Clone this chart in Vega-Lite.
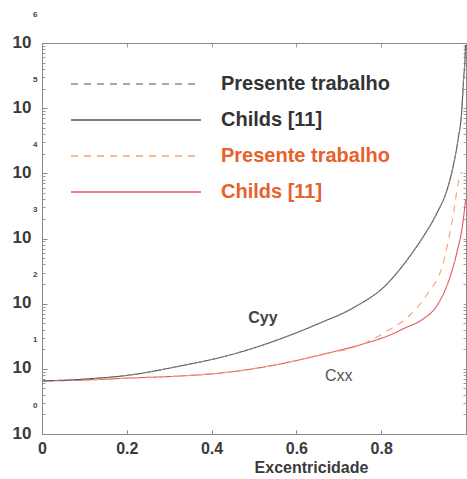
{
  "$schema": "https://vega.github.io/schema/vega-lite/v6.json",
  "width": 424,
  "height": 391,
  "autosize": {"type": "none"},
  "padding": {"left": 42, "top": 43, "right": 1, "bottom": 45},
  "background": "white",
  "config": {
    "font": "Liberation Sans",
    "axis": {"labelFont": "Liberation Sans", "titleFont": "Liberation Sans"},
    "legend": {"labelFont": "Liberation Sans"},
    "text": {"font": "Liberation Sans"},
    "view": {"stroke": "#8a8a8a", "strokeWidth": 1}
  },
  "datasets": {
    "curves": [
      {"s": "xx_c", "e": 0, "C": 6.51},
      {"s": "xx_c", "e": 0.1038, "C": 6.74},
      {"s": "xx_c", "e": 0.2075, "C": 7.23},
      {"s": "xx_c", "e": 0.3255, "C": 7.76},
      {"s": "xx_c", "e": 0.4434, "C": 8.94},
      {"s": "xx_c", "e": 0.5613, "C": 11.86},
      {"s": "xx_c", "e": 0.6557, "C": 16.3},
      {"s": "xx_c", "e": 0.7571, "C": 24.04},
      {"s": "xx_c", "e": 0.8208, "C": 33.04},
      {"s": "xx_c", "e": 0.8561, "C": 42.31},
      {"s": "xx_c", "e": 0.8986, "C": 58.17},
      {"s": "xx_c", "e": 0.9292, "C": 88.85},
      {"s": "xx_c", "e": 0.9623, "C": 256.5},
      {"s": "xx_c", "e": 0.9788, "C": 620.4},
      {"s": "xx_c", "e": 0.9929, "C": 1791},
      {"s": "xx_c", "e": 0.9988, "C": 3896},
      {"s": "xx_p", "e": 0, "C": 6.51},
      {"s": "xx_p", "e": 0.1038, "C": 6.74},
      {"s": "xx_p", "e": 0.2075, "C": 7.23},
      {"s": "xx_p", "e": 0.3255, "C": 7.76},
      {"s": "xx_p", "e": 0.4434, "C": 8.94},
      {"s": "xx_p", "e": 0.5613, "C": 11.86},
      {"s": "xx_p", "e": 0.6557, "C": 16.3},
      {"s": "xx_p", "e": 0.7571, "C": 24.04},
      {"s": "xx_p", "e": 0.8137, "C": 38.06},
      {"s": "xx_p", "e": 0.8679, "C": 66.99},
      {"s": "xx_p", "e": 0.9104, "C": 145.7},
      {"s": "xx_p", "e": 0.9434, "C": 365.1},
      {"s": "xx_p", "e": 0.967, "C": 1791},
      {"s": "xx_p", "e": 0.9858, "C": 9097},
      {"s": "xx_p", "e": 0.9906, "C": 10480},
      {"s": "yy_c", "e": 0, "C": 6.51},
      {"s": "yy_c", "e": 0.1038, "C": 6.98},
      {"s": "yy_c", "e": 0.2075, "C": 8.04},
      {"s": "yy_c", "e": 0.3255, "C": 11.05},
      {"s": "yy_c", "e": 0.4434, "C": 16.3},
      {"s": "yy_c", "e": 0.5613, "C": 28.69},
      {"s": "yy_c", "e": 0.6557, "C": 50.49},
      {"s": "yy_c", "e": 0.7335, "C": 85.79},
      {"s": "yy_c", "e": 0.8137, "C": 200.3},
      {"s": "yy_c", "e": 0.8679, "C": 538.7},
      {"s": "yy_c", "e": 0.8986, "C": 1054},
      {"s": "yy_c", "e": 0.9316, "C": 2461},
      {"s": "yy_c", "e": 0.9552, "C": 5548},
      {"s": "yy_c", "e": 0.9693, "C": 12503},
      {"s": "yy_c", "e": 0.9811, "C": 32460},
      {"s": "yy_c", "e": 0.9906, "C": 104200},
      {"s": "yy_c", "e": 0.9941, "C": 270400},
      {"s": "yy_c", "e": 0.9976, "C": 548200},
      {"s": "yy_c", "e": 0.999, "C": 931100},
      {"s": "yy_p", "e": 0, "C": 6.51},
      {"s": "yy_p", "e": 0.1038, "C": 6.98},
      {"s": "yy_p", "e": 0.2075, "C": 8.04},
      {"s": "yy_p", "e": 0.3255, "C": 11.05},
      {"s": "yy_p", "e": 0.4434, "C": 16.3},
      {"s": "yy_p", "e": 0.5613, "C": 28.69},
      {"s": "yy_p", "e": 0.6557, "C": 50.49},
      {"s": "yy_p", "e": 0.7335, "C": 85.79},
      {"s": "yy_p", "e": 0.8137, "C": 200.3},
      {"s": "yy_p", "e": 0.8679, "C": 538.7},
      {"s": "yy_p", "e": 0.8986, "C": 1054},
      {"s": "yy_p", "e": 0.9316, "C": 2461},
      {"s": "yy_p", "e": 0.9552, "C": 5548},
      {"s": "yy_p", "e": 0.9693, "C": 12503},
      {"s": "yy_p", "e": 0.9811, "C": 32460},
      {"s": "yy_p", "e": 0.9906, "C": 104200},
      {"s": "yy_p", "e": 0.9941, "C": 270400},
      {"s": "yy_p", "e": 0.9976, "C": 548200},
      {"s": "yy_p", "e": 0.999, "C": 931100}
    ],
    "notes": [
      {"e": 0.521, "C": 60, "txt": "Cyy", "w": "bold"},
      {"e": 0.7, "C": 7.76, "txt": "Cxx", "w": "normal"}
    ]
  },
  "resolve": {
    "scale": {"x": "shared", "y": "shared"},
    "axis": {"x": "independent", "y": "independent"}
  },
  "layer": [
    {
      "data": {"name": "curves"},
      "mark": {"type": "line", "strokeWidth": 1.1, "interpolate": "monotone"},
      "encoding": {
        "x": {
          "field": "e", "type": "quantitative",
          "scale": {"domain": [0, 1], "nice": false, "zero": false},
          "axis": {
            "orient": "bottom",
            "values": [0, 0.2, 0.4, 0.6, 0.8],
            "format": "~g",
            "labelFont": "Liberation Sans",
            "labelFontSize": 16, "labelFontWeight": "bold", "labelColor": "#3a3a3a",
            "labelFlush": false, "labelOverlap": false, "labelPadding": 10,
            "tickSize": -4, "tickColor": "#8a8a8a", "domainColor": "#8a8a8a",
            "grid": false,
            "title": "Excentricidade",
            "titleFont": "Liberation Sans",
            "titleFontSize": 16, "titleFontWeight": "bold", "titleColor": "#3a3a3a",
            "titleX": 269, "titleY": 33, "titleBaseline": "middle", "titleAlign": "center"
          }
        },
        "y": {
          "field": "C", "type": "quantitative",
          "scale": {"type": "log", "domain": [1, 1000000], "nice": false},
          "axis": {
            "orient": "left",
            "values": [1, 10, 100, 1000, 10000, 100000, 1000000],
            "labelExpr": "'10'",
            "labelFont": "Liberation Sans",
            "labelFontSize": 17, "labelFontWeight": "bold", "labelColor": "#3a3a3a",
            "labelFlush": false, "labelOverlap": false, "labelPadding": 16,
            "labelBaseline": "middle", "labelOffset": -1,
            "tickSize": -5, "tickColor": "#8a8a8a", "domainColor": "#8a8a8a",
            "grid": false, "title": null
          }
        },
        "color": {
          "field": "s", "type": "nominal",
          "scale": {
            "domain": ["yy_p", "yy_c", "xx_p", "xx_c"],
            "range": ["#8c8c8c", "#555555", "#f2a46e", "#e4575f"]
          },
          "legend": {
            "orient": "none", "legendX": 83, "legendY": 30,
            "title": null, "padding": 0,
            "symbolType": "M-6.5,0H6.5", "symbolSize": 400, "symbolStrokeWidth": 1.5,
            "symbolFillColor": "transparent",
            "labelFont": "Liberation Sans",
            "labelFontSize": 20, "labelFontWeight": "bold", "labelOffset": 74,
            "labelLimit": 400, "rowPadding": 15,
            "labelExpr": "indexof(['yy_p', 'xx_p'], datum.value) >= 0 ? 'Presente trabalho' : 'Childs [11]'",
            "encode": {
              "labels": {
                "update": {
                  "fill": {"signal": "indexof(['xx_p', 'xx_c'], datum.value) >= 0 ? '#e8602c' : '#333333'"}
                }
              }
            }
          }
        },
        "strokeDash": {
          "field": "s", "type": "nominal",
          "scale": {
            "domain": ["yy_p", "yy_c", "xx_p", "xx_c"],
            "range": [[7, 6], [1, 0], [7, 6], [1, 0]]
          },
          "legend": {
            "orient": "none", "legendX": 83, "legendY": 30,
            "title": null, "padding": 0,
            "symbolType": "M-6.5,0H6.5", "symbolSize": 400, "symbolStrokeWidth": 1.5,
            "symbolFillColor": "transparent",
            "labelFont": "Liberation Sans",
            "labelFontSize": 20, "labelFontWeight": "bold", "labelOffset": 74,
            "labelLimit": 400, "rowPadding": 15,
            "labelExpr": "indexof(['yy_p', 'xx_p'], datum.value) >= 0 ? 'Presente trabalho' : 'Childs [11]'",
            "encode": {
              "labels": {
                "update": {
                  "fill": {"signal": "indexof(['xx_p', 'xx_c'], datum.value) >= 0 ? '#e8602c' : '#333333'"}
                }
              }
            }
          }
        }
      }
    },
    {
      "data": {"name": "curves"},
      "mark": {"type": "rule", "opacity": 0},
      "encoding": {
        "y": {
          "field": "C", "type": "quantitative",
          "scale": {"type": "log", "domain": [1, 1000000], "nice": false},
          "axis": {
            "orient": "left",
            "values": [1, 10, 100, 1000, 10000, 100000, 1000000],
            "labelExpr": "format(log(datum.value) / LN10, '.0f')",
            "labelFont": "Liberation Sans",
            "labelFontSize": 8, "labelFontWeight": "bold", "labelColor": "#444444",
            "labelFlush": false, "labelOverlap": false, "labelPadding": 5,
            "labelBaseline": "middle", "labelOffset": -29,
            "ticks": false, "domain": false, "grid": false, "title": null
          }
        }
      }
    },
    {
      "data": {"name": "curves"},
      "mark": {"type": "rule", "opacity": 0},
      "encoding": {
        "y": {
          "field": "C", "type": "quantitative",
          "scale": {"type": "log", "domain": [1, 1000000], "nice": false},
          "axis": {
            "orient": "left",
            "values": [2, 3, 4, 5, 6, 7, 8, 9, 20, 30, 40, 50, 60, 70, 80, 90, 200, 300, 400, 500, 600, 700, 800, 900, 2000, 3000, 4000, 5000, 6000, 7000, 8000, 9000, 20000, 30000, 40000, 50000, 60000, 70000, 80000, 90000, 200000, 300000, 400000, 500000, 600000, 700000, 800000, 900000],
            "labels": false, "domain": false, "grid": false, "title": null,
            "tickSize": -3, "tickColor": "#9a9a9a"
          }
        }
      }
    },
    {
      "data": {"name": "curves"},
      "mark": {"type": "rule", "opacity": 0},
      "encoding": {
        "y": {
          "field": "C", "type": "quantitative",
          "scale": {"type": "log", "domain": [1, 1000000], "nice": false},
          "axis": {
            "orient": "right",
            "values": [1, 2, 3, 4, 5, 6, 7, 8, 9, 10, 20, 30, 40, 50, 60, 70, 80, 90, 100, 200, 300, 400, 500, 600, 700, 800, 900, 1000, 2000, 3000, 4000, 5000, 6000, 7000, 8000, 9000, 10000, 20000, 30000, 40000, 50000, 60000, 70000, 80000, 90000, 100000, 200000, 300000, 400000, 500000, 600000, 700000, 800000, 900000, 1000000],
            "labels": false, "domain": false, "grid": false, "title": null,
            "tickSize": -3, "tickColor": "#9a9a9a"
          }
        }
      }
    },
    {
      "data": {"name": "curves"},
      "mark": {"type": "rule", "opacity": 0},
      "encoding": {
        "x": {
          "field": "e", "type": "quantitative",
          "scale": {"domain": [0, 1], "nice": false, "zero": false},
          "axis": {
            "orient": "top",
            "values": [0.2, 0.4, 0.6, 0.8],
            "labels": false, "domain": false, "grid": false, "title": null,
            "tickSize": -4, "tickColor": "#9a9a9a"
          }
        }
      }
    },
    {
      "data": {"name": "notes"},
      "transform": [{"filter": "datum.w == 'bold'"}],
      "mark": {"type": "text", "font": "Liberation Sans", "fontSize": 16, "fontWeight": "bold", "color": "#444444", "align": "center", "baseline": "middle"},
      "encoding": {
        "x": {"field": "e", "type": "quantitative", "scale": {"domain": [0, 1], "nice": false, "zero": false}, "axis": null},
        "y": {"field": "C", "type": "quantitative", "scale": {"type": "log", "domain": [1, 1000000], "nice": false}, "axis": null},
        "text": {"field": "txt"}
      }
    },
    {
      "data": {"name": "notes"},
      "transform": [{"filter": "datum.w == 'normal'"}],
      "mark": {"type": "text", "font": "Liberation Sans", "fontSize": 16, "fontWeight": "normal", "color": "#555555", "align": "center", "baseline": "middle"},
      "encoding": {
        "x": {"field": "e", "type": "quantitative", "scale": {"domain": [0, 1], "nice": false, "zero": false}, "axis": null},
        "y": {"field": "C", "type": "quantitative", "scale": {"type": "log", "domain": [1, 1000000], "nice": false}, "axis": null},
        "text": {"field": "txt"}
      }
    }
  ]
}
